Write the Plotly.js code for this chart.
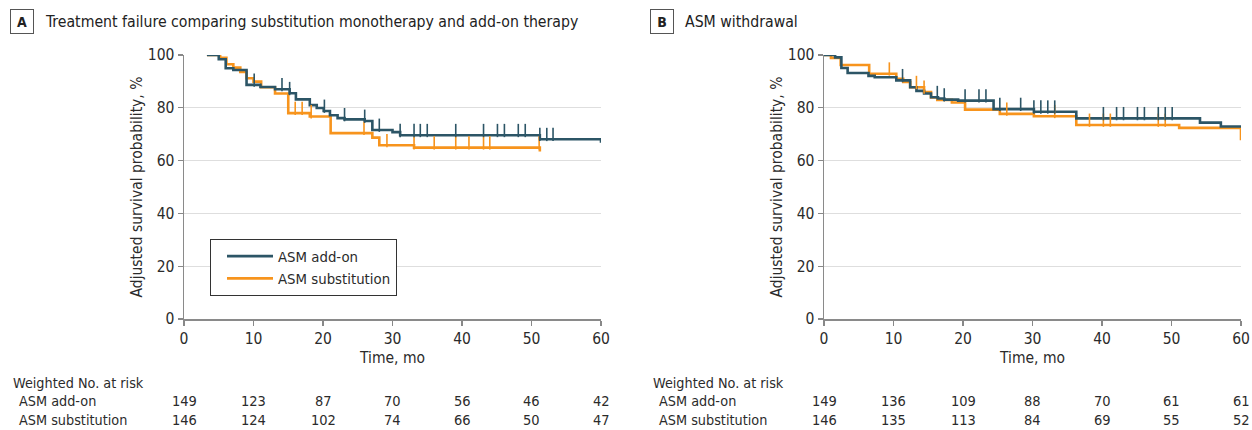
<!DOCTYPE html>
<html>
<head>
<meta charset="utf-8">
<script src="https://cdn.plot.ly/plotly-3.0.1.min.js"></script>
<style>
html,body{margin:0;padding:0;background:#fff;}
#chart{width:1252px;height:430px;}
</style>
</head>
<body>
<div id="chart"></div>
<script>
// ---------------- DATA ----------------
// Panel A: treatment failure
var timeA_addon = [3.3, 5.0, 6.0, 7.1, 9.0, 11.0, 13.1, 15.2, 16.1, 18.1, 19.1, 20.1, 21.0, 22.1, 23.1, 26.0, 27.1, 30.0, 31.1, 51.2, 60];
var survA_addon = [100, 98.4, 95.0, 94.3, 88.7, 87.9, 87.0, 85.5, 83.2, 81.0, 79.9, 78.8, 77.2, 76.1, 75.6, 75.0, 71.6, 70.8, 69.6, 68.1, 66.8];
var timeA_subst = [3.3, 5.2, 6.1, 7.1, 8.1, 9.0, 10.0, 11.1, 13.1, 15.0, 18.1, 21.1, 27.1, 28.1, 33.1, 51.2];
var survA_subst = [100, 98.9, 96.5, 95.2, 93.6, 91.2, 89.9, 87.8, 85.4, 78.0, 76.7, 70.4, 68.7, 65.8, 64.9, 63.4];
var censorA_addon = [10.1, 14.1, 15.2, 20.2, 23.1, 26.0, 28.1, 31.1, 33.1, 34.0, 35.0, 39.1, 43.1, 45.1, 46.1, 48.1, 49.1, 51.2, 52.2, 53.1];
var censorA_subst = [4.1, 5.2, 16.0, 17.0, 18.3, 25.9, 29.2, 33.1, 36.0, 39.1, 41.0, 43.1, 44.0, 51.1];

// Panel B: ASM withdrawal
var timeB_addon = [0, 1.6, 2.5, 3.4, 6.4, 7.3, 10.4, 12.4, 13.3, 14.4, 15.4, 16.4, 17.3, 19.3, 24.4, 30.2, 36.3, 54.1, 57.1, 60];
var survB_addon = [100, 99.1, 95.1, 93.2, 92.1, 91.6, 90.4, 87.8, 86.4, 85.4, 84.0, 83.5, 83.1, 82.7, 79.5, 78.5, 76.0, 74.4, 72.9, 72.9];
var timeB_subst = [0, 1.0, 2.4, 6.5, 10.4, 11.4, 12.4, 14.4, 15.4, 16.3, 18.4, 20.3, 25.3, 30.2, 36.3, 51.1, 60];
var survB_subst = [100, 98.9, 96.2, 92.9, 91.0, 89.8, 87.8, 86.0, 83.9, 83.0, 82.0, 79.3, 77.7, 76.8, 73.5, 72.4, 67.7];
var censorB_addon = [11.3, 16.3, 17.3, 20.3, 22.3, 23.3, 25.3, 28.3, 30.2, 31.2, 32.2, 33.2, 40.2, 42.1, 43.1, 45.1, 46.1, 48.1, 49.1, 50.1];
var censorB_subst = [9.4, 13.3, 14.4, 26.3, 33.2, 38.2, 40.2, 41.2, 48.1, 49.1];

// Numbers at risk
var riskTimes = [0, 10, 20, 30, 40, 50, 60];
var riskA_addon = [149, 123, 87, 70, 56, 46, 42];
var riskA_subst = [146, 124, 102, 74, 66, 50, 47];
var riskB_addon = [149, 136, 109, 88, 70, 61, 61];
var riskB_subst = [146, 135, 113, 84, 69, 55, 52];

var seriesNames = ['ASM add-on', 'ASM substitution'];
var panelTitles = ['Treatment failure comparing substitution monotherapy and add-on therapy', 'ASM withdrawal'];
var panelLetters = ['A', 'B'];
var riskHeader = 'Weighted No. at risk';

// ---------------- STYLE ----------------
var W = 1252, H = 430;
var FONT = '"Liberation Sans Narrow", "DejaVu Sans Condensed", "Roboto", sans-serif';
var C_ADD = '#2c5566';
var C_SUB = '#f7941d';
var TXT = '#2b2b2b';
var TICK_PX = 9.5;               // censor tick length in px
var PX_PER_PCT = 264 / 100;      // plot height / y range

function stepValue(times, surv, t) {
  var v = surv[0];
  for (var i = 0; i < times.length; i++) { if (times[i] <= t + 1e-9) v = surv[i]; }
  return v;
}

function curve(times, surv, color, name, xa, ya, showleg) {
  return {type: 'scatter', mode: 'lines', x: times, y: surv, name: name,
    line: {shape: 'hv', color: color, width: 2.6}, xaxis: xa, yaxis: ya,
    showlegend: showleg, legendgroup: name, hoverinfo: 'skip', cliponaxis: false};
}
function censor(ct, times, surv, color, xa, ya) {
  // vertical tick sitting on top of the curve: centre shifted up by half its length
  var half = TICK_PX / 2 / PX_PER_PCT;
  var ys = ct.map(function (t) { return stepValue(times, surv, t) + half; });
  return {type: 'scatter', mode: 'markers', x: ct, y: ys, xaxis: xa, yaxis: ya,
    marker: {symbol: 'line-ns', size: TICK_PX, color: color, line: {color: color, width: 1.6}},
    showlegend: false, hoverinfo: 'skip', cliponaxis: false};
}

var traces = [
  curve(timeA_subst, survA_subst, C_SUB, seriesNames[1], 'x', 'y', true),
  curve(timeA_addon, survA_addon, C_ADD, seriesNames[0], 'x', 'y', true),
  censor(censorA_subst, timeA_subst, survA_subst, C_SUB, 'x', 'y'),
  censor(censorA_addon, timeA_addon, survA_addon, C_ADD, 'x', 'y'),
  curve(timeB_subst, survB_subst, C_SUB, seriesNames[1], 'x2', 'y2', false),
  curve(timeB_addon, survB_addon, C_ADD, seriesNames[0], 'x2', 'y2', false),
  censor(censorB_subst, timeB_subst, survB_subst, C_SUB, 'x2', 'y2'),
  censor(censorB_addon, timeB_addon, survB_addon, C_ADD, 'x2', 'y2')
];

function xaxis(domain, anchor) {
  return {domain: domain, anchor: anchor, range: [0, 60], dtick: 10, tick0: 0,
    ticks: 'outside', ticklen: 5, tickwidth: 1.2, tickcolor: '#888',
    showline: true, linecolor: '#8a8a8a', linewidth: 1.5, showgrid: false, zeroline: false,
    tickfont: {family: FONT, size: 15.5, color: TXT},
    title: {text: 'Time, mo', font: {family: FONT, size: 15.5, color: TXT}, standoff: 5}};
}
function yaxis(anchor) {
  return {domain: [(H - 319) / H, (H - 55) / H], anchor: anchor, range: [0, 100], dtick: 20,
    ticks: 'outside', ticklen: 5, tickwidth: 1.2, tickcolor: '#888',
    showline: true, linecolor: '#8a8a8a', linewidth: 1.5, showgrid: true, gridcolor: '#dedede', gridwidth: 1,
    zeroline: false, tickfont: {family: FONT, size: 15.5, color: TXT},
    title: {text: 'Adjusted survival probability, %', font: {family: FONT, size: 15.5, color: TXT}, standoff: 1}};
}

var annotations = [];
var letterX = [22, 662];
var titleX = [43, 683];
var riskSets = [[riskA_addon, riskA_subst], [riskB_addon, riskB_subst]];
var labelX = [11, 651];
for (var p = 0; p < 2; p++) {
  annotations.push({xref: 'paper', yref: 'paper', x: letterX[p] / W, y: (H - 21) / H, xanchor: 'center', yanchor: 'middle',
    text: '<b>' + panelLetters[p] + '</b>', showarrow: false, font: {family: FONT, size: 14, color: '#222'},
    bordercolor: '#555', borderwidth: 1, borderpad: 3, bgcolor: '#fff', width: 16, height: 17});
  annotations.push({xref: 'paper', yref: 'paper', x: titleX[p] / W, y: (H - 21) / H, xanchor: 'left', yanchor: 'middle',
    text: panelTitles[p], showarrow: false, font: {family: FONT, size: 15.7, color: '#222'}});
  annotations.push({xref: 'paper', yref: 'paper', x: labelX[p] / W, y: (H - 383) / H, xanchor: 'left', yanchor: 'middle',
    text: riskHeader, showarrow: false, font: {family: FONT, size: 14.3, color: TXT}});
  for (var s = 0; s < 2; s++) {
    var yy = (H - (s === 0 ? 401 : 420)) / H;
    annotations.push({xref: 'paper', yref: 'paper', x: (labelX[p] + 6) / W, y: yy, xanchor: 'left', yanchor: 'middle',
      text: seriesNames[s], showarrow: false, font: {family: FONT, size: 14.3, color: TXT}});
    for (var k = 0; k < riskTimes.length; k++) {
      annotations.push({xref: p === 0 ? 'x' : 'x2', yref: 'paper', x: riskTimes[k], y: yy,
        xanchor: 'center', yanchor: 'middle', text: String(riskSets[p][s][k]), showarrow: false,
        font: {family: FONT, size: 14.5, color: TXT}});
    }
  }
}

var layout = {
  width: W, height: H, margin: {l: 0, r: 0, t: 0, b: 0},
  paper_bgcolor: '#fff', plot_bgcolor: '#fff',
  font: {family: FONT, color: TXT},
  xaxis: xaxis([184 / W, 601 / W], 'y'),
  yaxis: yaxis('x'),
  xaxis2: xaxis([824 / W, 1241 / W], 'y2'),
  yaxis2: yaxis('x2'),
  showlegend: true,
  legend: {x: 210 / W, y: (H - 239) / H, xanchor: 'left', yanchor: 'top',
    bordercolor: '#333', borderwidth: 1, bgcolor: '#fff', traceorder: 'reversed',
    font: {family: FONT, size: 14.8, color: TXT}, itemwidth: 46, indentation: 11, tracegroupgap: 2},
  annotations: annotations
};

Plotly.newPlot('chart', traces, layout, {staticPlot: true, displayModeBar: false});
</script>
</body>
</html>
